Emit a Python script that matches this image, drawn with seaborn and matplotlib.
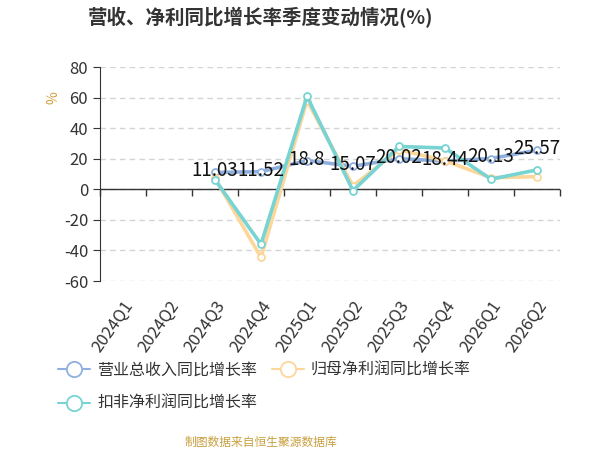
import numpy as np
import pandas as pd
import matplotlib
matplotlib.use("Agg")
import matplotlib.pyplot as plt
import seaborn as sns
from matplotlib.lines import Line2D

quarters = ['2024Q1', '2024Q2', '2024Q3', '2024Q4', '2025Q1',
            '2025Q2', '2025Q3', '2025Q4', '2026Q1', '2026Q2']
revenue_yoy = [np.nan, np.nan, 11.03, 11.52, 18.8, 15.07, 20.02, 18.44, 20.13, 25.57]
net_profit_yoy = [np.nan, np.nan, 7.2, -44.6, 58.0, 2.2, 26.0, 18.6, 7.6, 8.3]
deducted_profit_yoy = [np.nan, np.nan, 6.3, -36.0, 60.8, -0.9, 28.0, 27.0, 6.6, 12.7]

series_names = ['营业总收入同比增长率', '归母净利润同比增长率', '扣非净利润同比增长率']
colors = ['#8fb0df', '#fdd69a', '#78d3d3']

sns.set_style("white")
plt.rcParams['font.family'] = ['Noto Sans CJK SC', 'DejaVu Sans']
plt.rcParams['axes.unicode_minus'] = False

df = pd.DataFrame({
    'idx': np.arange(len(quarters)),
    series_names[0]: revenue_yoy,
    series_names[1]: net_profit_yoy,
    series_names[2]: deducted_profit_yoy,
})

fig = plt.figure(figsize=(6, 4.5), dpi=100)
ax = fig.add_axes([100 / 600, 1 - 281 / 450, 460 / 600, 214 / 450])

for name, c in zip(series_names, colors):
    sub = df[['idx', name]].dropna()
    sns.lineplot(data=sub, x='idx', y=name, ax=ax, color=c, linewidth=2.6,
                 marker='o', markersize=5, markerfacecolor='white',
                 markeredgecolor=c, markeredgewidth=1.3, zorder=3)

# value labels for revenue
for i, v in enumerate(revenue_yoy):
    if not np.isnan(v):
        ax.text(i, v + 1, f'{v:g}', ha='center', va='center', fontsize=13.5,
                color='#111111', zorder=5)

ax.set_xlim(-0.5, len(quarters) - 0.5)
ax.set_ylim(-60, 80)
ax.set_yticks(range(-60, 81, 20))
ax.yaxis.grid(True, linestyle=(0, (4, 3)), color='#d4d4d4', linewidth=1)
ax.set_axisbelow(True)
ax.set_xlabel('')
ax.set_ylabel('')
ax.axhline(0, color='#333333', linewidth=1, zorder=2)

for s in ['top', 'right', 'bottom']:
    ax.spines[s].set_visible(False)
ax.spines['left'].set_color('#333333')
ax.tick_params(axis='y', direction='out', length=5, color='#333333',
               labelsize=12, labelcolor='#333333', left=True)

ax.set_xticks(range(len(quarters)))
ax.set_xticklabels(quarters, rotation=55, ha='right', va='top',
                   rotation_mode='anchor', fontsize=12, color='#333333')
ax.tick_params(axis='x', length=0, pad=12)

# tick marks on the zero line at category edges
zero_pos = (0 - (-60)) / (80 - (-60))
secax = ax.secondary_xaxis(zero_pos)
secax.set_xticks(np.arange(-0.5, len(quarters), 1.0))
secax.set_xticklabels([])
secax.tick_params(direction='out', length=5, color='#333333', width=1)
for s in secax.spines.values():
    s.set_visible(False)

fig.text(53 / 600, 1 - 98 / 450, '%', color='#d4a040', fontsize=10,
         rotation=90, ha='center', va='center')

fig.text(261 / 600, 1 - 18 / 450, '营收、净利同比增长率季度变动情况(%)',
         ha='center', va='center', fontsize=14, fontweight='bold',
         color='#333333')

handles = [Line2D([], [], color=c, linewidth=1.5, marker='o', markersize=11,
                  markerfacecolor='white', markeredgecolor=c, markeredgewidth=1.3)
           for c in colors]
order = [0, 2, 1]
fig.legend([handles[i] for i in order], [series_names[i] for i in order],
           ncol=2, loc='upper left', bbox_to_anchor=(44 / 600, 1 - 347 / 450),
           frameon=False, fontsize=11.5, handlelength=2.0, handletextpad=0.45,
           columnspacing=0.9, labelspacing=1.05, labelcolor='#333333')

fig.text(261 / 600, 1 - 442 / 450, '制图数据来自恒生聚源数据库',
         ha='center', va='center', fontsize=8.5, color='#c8a040')

fig.savefig('out.png', dpi=100)
